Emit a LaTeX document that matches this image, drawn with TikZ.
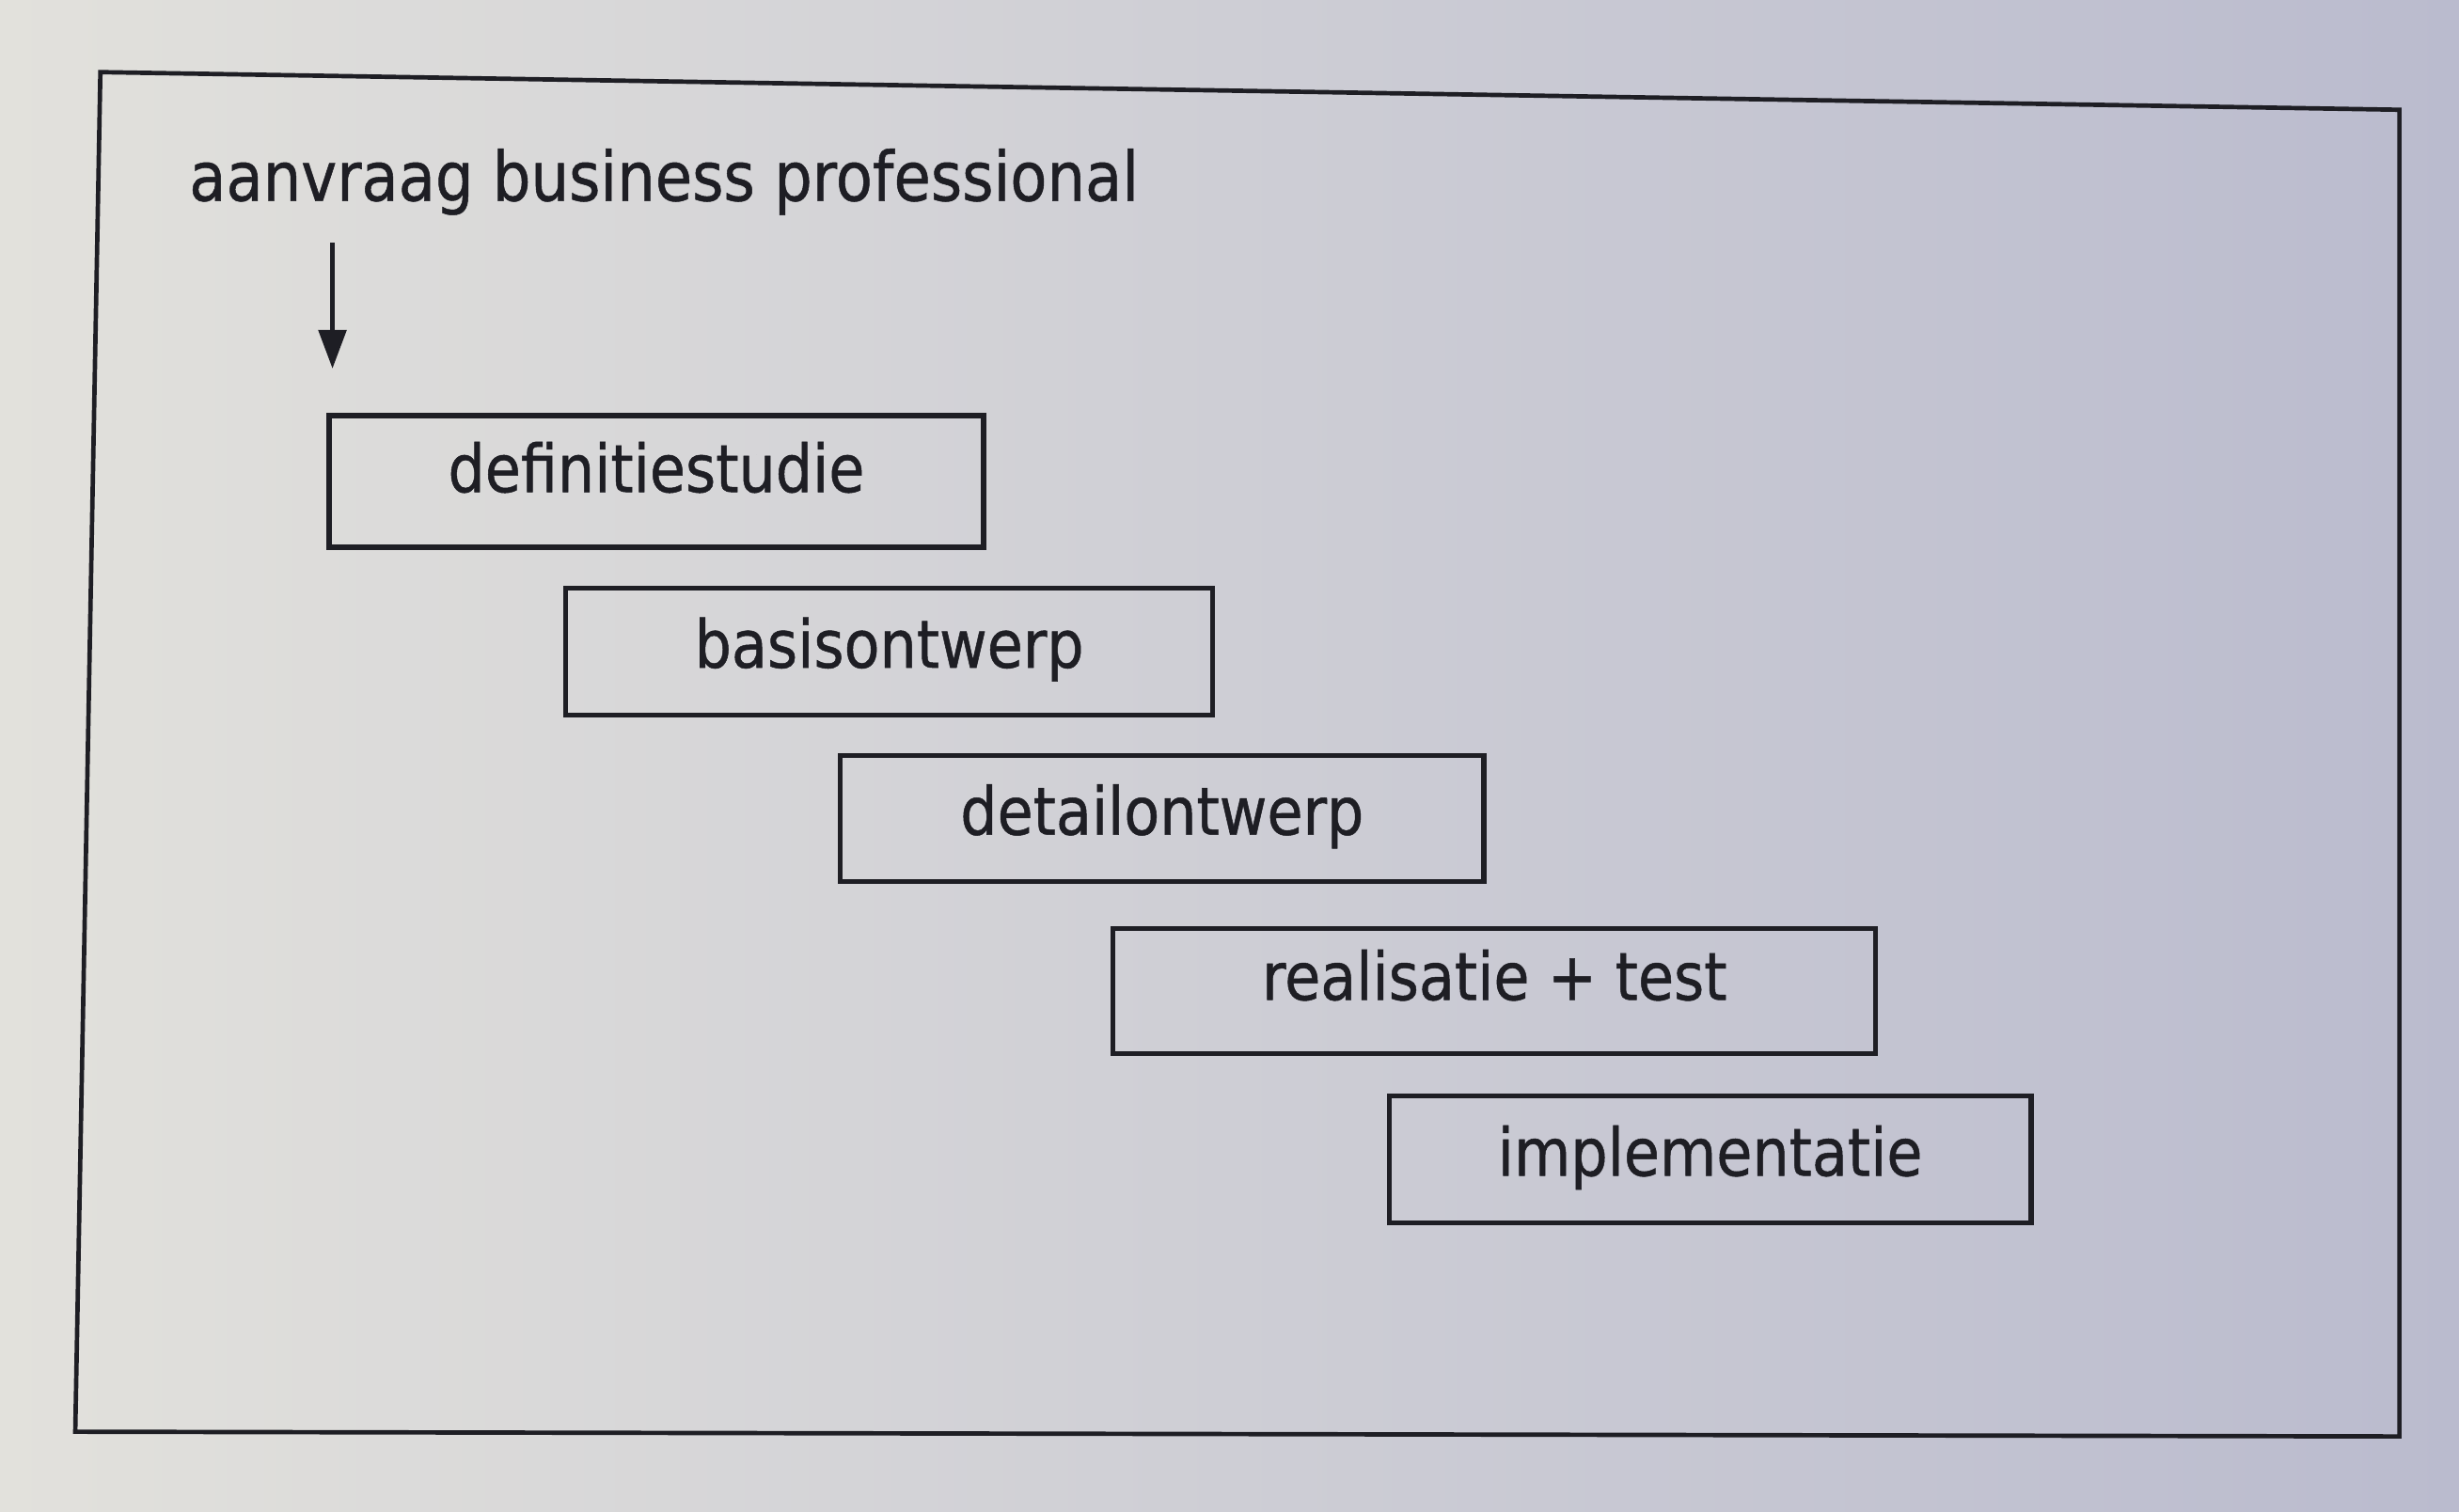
\documentclass[tikz,border=0pt]{standalone}
\usepackage{fontspec}
\setmainfont{DejaVu Sans}[FakeStretch=0.88,FakeBold=0.7]
\usetikzlibrary{arrows.meta}
\definecolor{paperL}{RGB}{226,225,220}
\definecolor{paperM}{RGB}{200,200,214}
\definecolor{paperR}{RGB}{186,187,206}
\definecolor{ink}{RGB}{30,30,36}
\tikzset{
  stepbox/.style={draw=ink, line width=0.9pt, rectangle, inner sep=0pt,
    text=ink, font=\fontsize{12}{14}\selectfont},
  frameline/.style={draw=ink, line width=0.8pt},
  flow/.style={draw=ink, line width=0.8pt, -{Triangle[length=7pt,width=5pt]}}
}
\begin{document}
\begin{tikzpicture}[x=0.01cm, y=-0.01cm]
\useasboundingbox (0,0) rectangle (1568,964);
\shade[left color=paperL, middle color=paperM, right color=paperR] (0,0) rectangle (1568,964);
% outer frame
\draw[frameline] (64,46) -- (1530,70) -- (1530,916) -- (48,913) -- cycle;
% title
\node[anchor=west, text=ink, font=\fontsize{12.4}{14}\selectfont, inner sep=0pt] (title) at (120,116) {aanvraag\ business\ professional};
% arrow
\coordinate (a1) at (212,155);
\coordinate (a2) at (212,235);
\draw[flow] (a1) -- (a2);
% boxes
\node[stepbox, minimum width=4.17cm, minimum height=0.84cm] (b1) at (418.5,307) {\raisebox{0.8ex}{definitiestudie}};
\node[stepbox, minimum width=4.12cm, minimum height=0.81cm] (b2) at (567,415.5) {\raisebox{0.5ex}{basisontwerp}};
\node[stepbox, minimum width=4.10cm, minimum height=0.80cm] (b3) at (741,522) {\raisebox{0.5ex}{detailontwerp}};
\node[stepbox, minimum width=4.86cm, minimum height=0.80cm] (b4) at (953,632) {\raisebox{0.9ex}{realisatie + test}};
\node[stepbox, minimum width=4.09cm, minimum height=0.81cm] (b5) at (1090.5,739.5) {\raisebox{0.5ex}{implementatie}};
\end{tikzpicture}
\end{document}
